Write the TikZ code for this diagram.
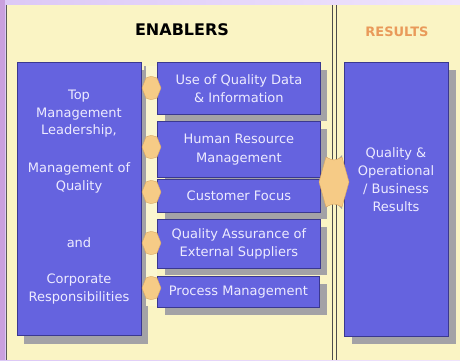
\documentclass[tikz,border=0pt]{standalone}
\usepackage{fontspec}
\setmainfont{DejaVu Sans}
\begin{document}
\begin{tikzpicture}[x=1pt,y=-1pt,
  box/.style={draw=boxline,line width=0.8pt,fill=boxfill,text=boxtext,align=center,inner sep=0pt,anchor=north west},
  shade/.style={fill=shadowgray},
  conn/.style={fill=connorange,draw=connedge,line width=0.4pt},
  txt/.style={font=\fontsize{13}{18.5}\selectfont,text=boxtext,align=center,inner sep=0pt}
]
\definecolor{bgpanel}{HTML}{FAF4C4}
\definecolor{lav}{HTML}{DCC8F6}
\definecolor{lav2}{HTML}{EFE4FD}
\definecolor{boxfill}{HTML}{6563DF}
\definecolor{boxline}{HTML}{3A3890}
\definecolor{boxtext}{HTML}{EDEBFF}
\definecolor{shadowgray}{HTML}{A3A2A6}
\definecolor{connorange}{HTML}{F6CB86}
\definecolor{connedge}{HTML}{D9A560}
\definecolor{resorange}{HTML}{E99A5A}
\useasboundingbox (0,0) rectangle (460,360);
% background
\fill[left color=lav,right color=lav2] (0,0) rectangle (460,360);
\fill[bgpanel] (7,5) rectangle (460,360);
\fill[lav!80!violet] (0,0) rectangle (5,360);
\draw[gray!70!black,line width=0.8pt] (6.5,5) -- (6.5,360);
% divider
\draw[gray!60!black,line width=0.7pt] (332.5,5) -- (332.5,360);
\draw[gray!60!black,line width=0.7pt] (336,5) -- (336,360);
% titles
\node (enab) [font=\bfseries\fontsize{16}{16}\selectfont] at (182,30) {ENABLERS};
\node (res) [font=\bfseries\fontsize{13}{13}\selectfont,text=resorange] at (397,32) {RESULTS};
% shadows
\fill[shade] (24,70) rectangle (148,344);
\fill[shade] (165,70) rectangle (327,121);
\fill[shade] (165,129) rectangle (327,184);
\fill[shade] (165,187) rectangle (327,219);
\fill[shade] (165,227) rectangle (327,275);
\fill[shade] (165,284) rectangle (327,315);
\fill[shade] (352,70) rectangle (456,344);
% vertical rail
\fill[bgpanel!80!white] (145,66) rectangle (157,306);
\draw[shadowgray,line width=2pt] (145,66) -- (145,306);
% boxes
\node (left) [box,minimum width=124pt,minimum height=273pt] at (17,62) {};
\node (m1) [box,minimum width=163pt,minimum height=52pt] at (157,62) {};
\node (m2) [box,minimum width=163pt,minimum height=56pt] at (157,121) {};
\node (m3) [box,minimum width=163pt,minimum height=33pt] at (157,179) {};
\node (m4) [box,minimum width=163pt,minimum height=49pt] at (157,219) {};
\node (m5) [box,minimum width=162pt,minimum height=31pt] at (157,276) {};
\node (right) [box,minimum width=104pt,minimum height=274pt] at (344,62) {};
% texts
\node (lt1) [txt,font=\fontsize{13}{17.5}\selectfont] at (79,114) {Top\\Management\\Leadership,};
\node (lt2) [txt] at (79,178) {Management of\\Quality};
\node (lt3) [txt] at (79,243) {and};
\node (lt4) [txt] at (79,289) {Corporate\\Responsibilities};
\node (t1) [txt] at (m1.center) {Use of Quality Data\\\& Information};
\node (t2) [txt] at (m2.center) {Human Resource\\Management};
\node (t3) [txt] at (m3.center) {Customer Focus};
\node (t4) [txt] at (m4.center) {Quality Assurance of\\External Suppliers};
\node (t5) [txt] at (m5.center) {Process Management};
\node (rt) [txt,font=\fontsize{13}{18}\selectfont] at (396,180) {Quality \&\\Operational\\/ Business\\Results};
% small connectors
\foreach \n/\yy in {m1/88,m2/147,m3/192,m4/243,m5/288}{
  \path[conn] (146,\yy-10) .. controls (151,\yy-12) .. (157,\yy-10) -- (161,\yy) -- (157,\yy+10) .. controls (151,\yy+12) .. (146,\yy+10) -- (142,\yy) -- cycle;
}
% big connector
\fill[shadowgray] (324,155) -- (331,160) -- (331,204) -- (324,209) -- cycle;
\fill[shadowgray] (342,155) -- (337,160) -- (337,204) -- (342,209) -- cycle;
\path[conn] (326,157) .. controls (334,161) .. (342,157) -- (349,182) -- (342,207) .. controls (334,203) .. (326,207) -- (319,182) -- cycle;
\end{tikzpicture}
\end{document}
